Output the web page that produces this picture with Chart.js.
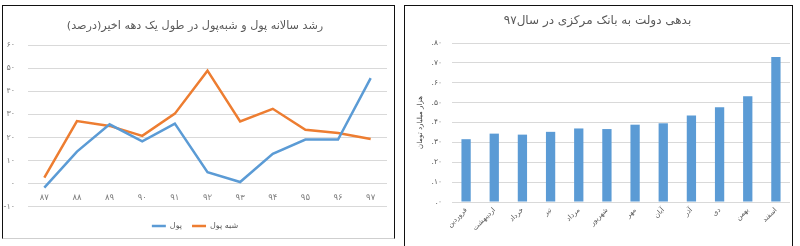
<!DOCTYPE html>
<html><head><meta charset="utf-8">
<script src="https://cdn.jsdelivr.net/npm/chart.js@4/dist/chart.umd.min.js"></script>
<style>
html,body{margin:0;padding:0;background:#fff;width:800px;height:246px;overflow:hidden;}
canvas{position:absolute;}
#c1{left:3px;top:6px;}
#c2{left:405px;top:6px;}
.b1{position:absolute;left:2px;top:5px;width:391px;height:232px;border-left:1.5px solid #111;border-right:1.5px solid #111;border-top:1.5px solid #111;border-bottom:1px solid #cfcfcf;pointer-events:none;}
.b2{position:absolute;left:404px;top:5px;width:387px;height:250px;border-left:1.5px solid #111;border-right:1.5px solid #111;border-top:1.5px solid #111;pointer-events:none;}
</style></head>
<body>
<canvas id="c1" width="391" height="234"></canvas>
<canvas id="c2" width="388" height="232"></canvas>
<div class="b1"></div><div class="b2"></div>
<script>
const years = ['۸۷','۸۸','۸۹','۹۰','۹۱','۹۲','۹۳','۹۴','۹۵','۹۶','۹۷'];
const money = [-1.7, 13.9, 25.7, 18.3, 26.0, 5.0, 0.7, 12.9, 19.1, 19.1, 45.7];
const quasiMoney = [2.6, 27.1, 25.0, 20.7, 30.3, 48.9, 26.9, 32.4, 23.3, 21.9, 19.3];
const months = ['فروردین','اردیبهشت','خرداد','تیر','مرداد','شهریور','مهر','آبان','آذر','دی','بهمن','اسفند'];
const debt = [31.6, 34.4, 33.9, 35.3, 37.0, 36.7, 38.9, 39.6, 43.5, 47.7, 53.2, 73.0];

const title1 = 'رشد سالانه پول و شبه‌پول در طول یک دهه اخیر(درصد)';
const title2 = 'بدهی دولت به بانک مرکزی در سال۹۷';
const yTitle2 = 'هزار میلیارد تومان';
const seriesNames = ['پول','شبه پول'];

const FA = '۰۱۲۳۴۵۶۷۸۹';
function toFa(v){ return String(v).replace(/[0-9]/g, d => FA[+d]); }
const FONT = "'DejaVu Sans', sans-serif";
const BLUE = '#5B9BD5', ORANGE = '#ED7D31', GRID = '#d9d9d9';

new Chart(document.getElementById('c1'), {
  type: 'line',
  data: {
    labels: years,
    datasets: [
      {label: seriesNames[0], data: money, borderColor: BLUE, backgroundColor: BLUE, borderWidth: 2.5, pointRadius: 0, tension: 0},
      {label: seriesNames[1], data: quasiMoney, borderColor: ORANGE, backgroundColor: ORANGE, borderWidth: 2.5, pointRadius: 0, tension: 0}
    ]
  },
  options: {
    responsive: false, animation: false, events: [],
    layout: {padding: {top: 4, left: 0, right: 7, bottom: 0}},
    plugins: {
      title: {display: true, text: title1, color: '#595959', font: {family: FONT, size: 11.2, weight: 'normal'}, padding: {top: 9, bottom: 12.56}},
      legend: {
        position: 'bottom',
        title: {display: true, text: '', font: {size: 1}, padding: {top: 4, bottom: 0}},
        labels: {usePointStyle: true, pointStyle: 'line', pointStyleWidth: 14, boxHeight: 8, padding: 10, color: '#595959', font: {family: FONT, size: 8}}
      },
      tooltip: {enabled: false}
    },
    scales: {
      x: {
        position: {y: 0}, offset: true,
        grid: {display: false, drawTicks: false}, border: {display: false},
        ticks: {color: '#7f7f7f', font: {family: FONT, size: 8.5}, padding: 9, maxRotation: 0, autoSkip: false}
      },
      y: {
        min: -10, max: 60,
        afterFit: s => { s.width = 25; },
        grid: {color: GRID, lineWidth: 1, drawTicks: false}, border: {display: false},
        ticks: {stepSize: 10, color: '#7f7f7f', font: {family: FONT, size: 8}, padding: 13, callback: v => toFa(v)}
      }
    }
  }
});

new Chart(document.getElementById('c2'), {
  type: 'bar',
  data: {
    labels: months,
    datasets: [{label: yTitle2, data: debt, backgroundColor: BLUE, borderWidth: 0, categoryPercentage: 1, barPercentage: 0.33}]
  },
  options: {
    responsive: false, animation: false, events: [],
    layout: {padding: {top: 2, left: 0, right: 3, bottom: 0}},
    plugins: {
      title: {display: true, text: title2, color: '#595959', font: {family: FONT, size: 12, weight: 'normal'}, padding: {top: 5.5, bottom: 15.1}},
      legend: {display: false},
      tooltip: {enabled: false}
    },
    scales: {
      x: {
        afterFit: s => { s.height = 36; },
        grid: {display: false, drawTicks: false}, border: {display: false},
        ticks: {color: '#595959', font: {family: FONT, size: 7}, padding: 4, minRotation: 45, maxRotation: 45, autoSkip: false}
      },
      y: {
        min: 0, max: 80,
        afterFit: s => { s.width = 47; },
        title: {display: true, text: yTitle2, color: '#404040', font: {family: FONT, size: 7}, padding: {top: 11, bottom: 0}},
        grid: {color: GRID, lineWidth: 1, drawTicks: false}, border: {display: false},
        ticks: {stepSize: 10, color: '#595959', font: {family: FONT, size: 7.5}, padding: 10, callback: v => '.' + toFa(v)}
      }
    }
  }
});
</script>
</body></html>
